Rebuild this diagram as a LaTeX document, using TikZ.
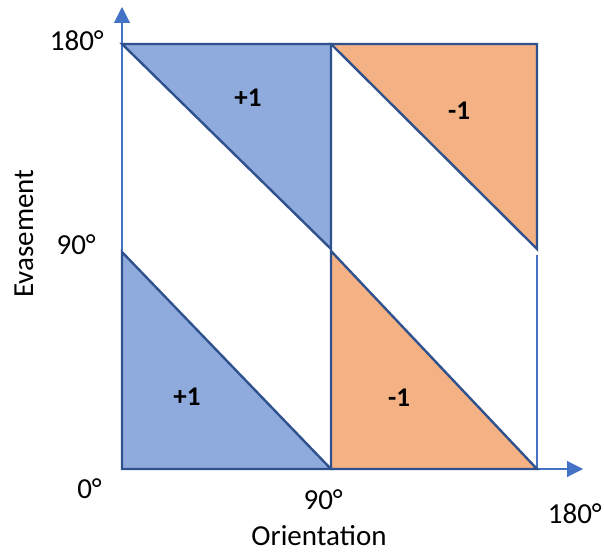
\documentclass[tikz,border=0pt]{standalone}
\usepackage{fontspec}
\setmainfont{Carlito}
\usetikzlibrary{arrows.meta}
\definecolor{bfill}{HTML}{8FAADC}
\definecolor{ofill}{HTML}{F4B183}
\definecolor{edge}{HTML}{2F528F}
\definecolor{axis}{HTML}{4472C4}
\tikzset{
  tri/.style={draw=edge, line width=2.4pt, line join=miter},
  ax/.style={draw=axis, line width=1.1pt, -{Triangle[length=16pt,width=16pt]}},
  thin/.style={draw=axis, line width=1.1pt},
  lbl/.style={font=\fontsize{29}{34}\selectfont, inner sep=0pt},
  val/.style={font=\fontsize{27}{32}\selectfont\bfseries, inner sep=0pt},
}
\begin{document}
\begin{tikzpicture}[x=1pt,y=-1pt]
\useasboundingbox (0,0) rectangle (604,553);
% axes
\coordinate (O) at (122,469);
\coordinate (Ytip) at (122,7);
\coordinate (Xtip) at (583,469);
\draw[ax] (O) -- (Ytip);
\draw[ax] (O) -- (Xtip);
\coordinate (R1) at (537,255);
\coordinate (R2) at (537,469);
\draw[thin] (R1) -- (R2);
% triangles
\filldraw[tri, fill=bfill] (122,44) -- (331,44) -- (331,249) -- cycle;
\filldraw[tri, fill=ofill] (331,44) -- (537,44) -- (537,249) -- cycle;
\filldraw[tri, fill=bfill] (122,252) -- (122,469) -- (331,469) -- cycle;
\filldraw[tri, fill=ofill] (331,251) -- (331,469) -- (537,469) -- cycle;
% labels
\node[lbl, anchor=base east] (y180) at (104,51) {180°};
\node[lbl, anchor=base east] (y90) at (96,254) {90°};
\node[lbl, anchor=base east] (x0) at (102,498) {0°};
\node[lbl, anchor=base east] (x90) at (343,509) {90°};
\node[lbl, anchor=base east] (x180) at (602,523) {180°};
\node[lbl, anchor=base] (xt) at (319,545) {Orientation};
\node[lbl, rotate=90, anchor=base] (yt) at (33,233.5) {Evasement};
\node[val] (v1) at (248,98) {+1};
\node[val] (v2) at (459,111) {-1};
\node[val] (v3) at (187,397) {+1};
\node[val] (v4) at (399,398) {-1};
\end{tikzpicture}
\end{document}
